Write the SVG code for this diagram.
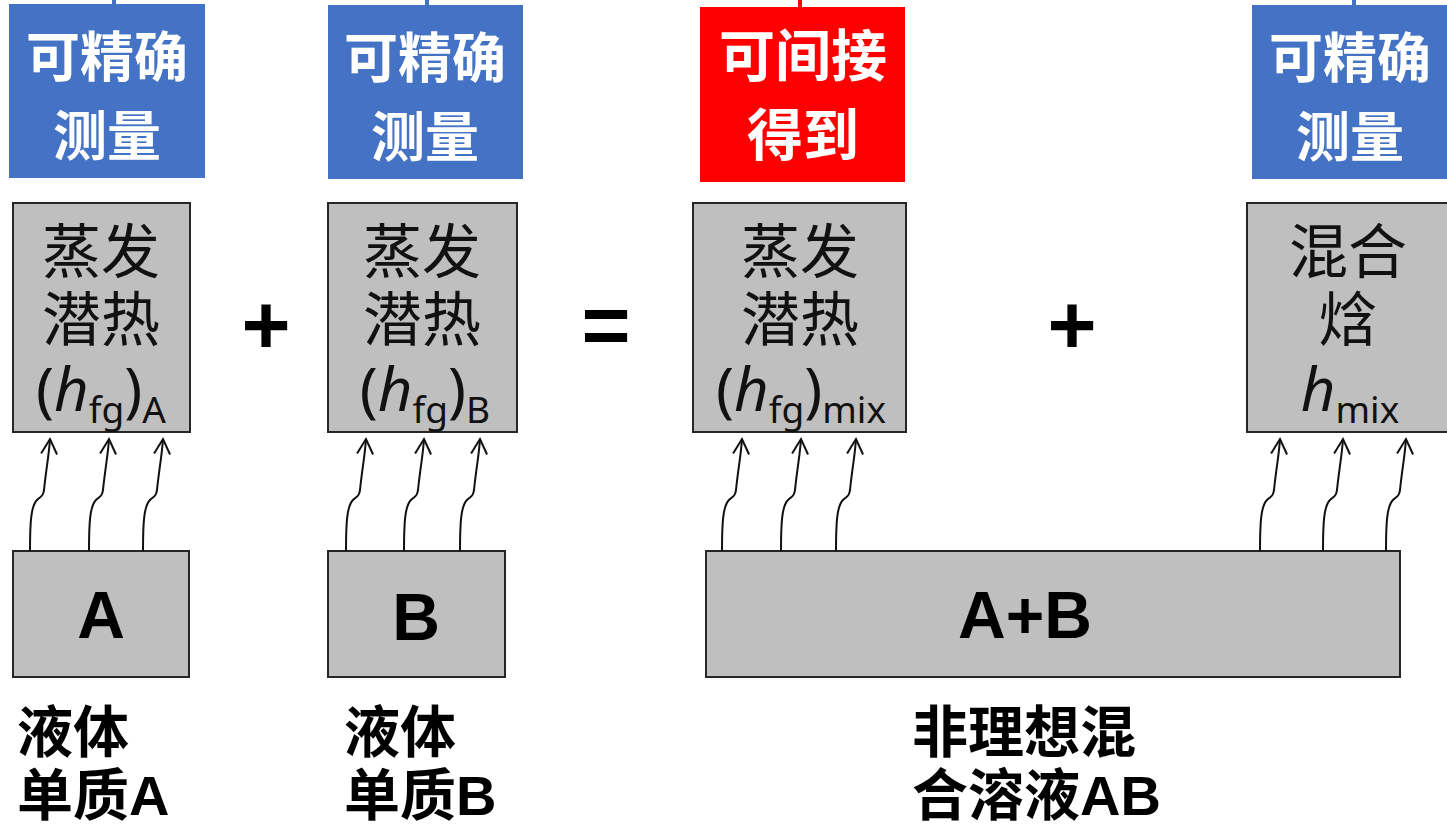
<svg xmlns="http://www.w3.org/2000/svg" width="1447" height="827" viewBox="0 0 1447 827">
<style>
.blue{fill:#4472C4}
.red{fill:#FF0000}
.gray{fill:#BFBFBF;stroke:#262626;stroke-width:2}
.wt{font-family:"Noto Sans CJK SC",sans-serif;font-weight:bold;font-size:54px;fill:#fff;text-anchor:middle}
.gt{font-family:"Noto Sans CJK SC",sans-serif;font-size:59px;fill:#111;text-anchor:middle}
.ft{font-family:"Noto Sans","Noto Sans CJK SC",sans-serif;font-size:60px;fill:#111;text-anchor:middle}
.sub{font-size:37px}
.bt{font-family:"Liberation Sans","Noto Sans CJK SC",sans-serif;font-weight:bold;font-size:66px;fill:#000;text-anchor:middle}
.lt{font-family:"Liberation Sans","Noto Sans CJK SC",sans-serif;font-weight:bold;font-size:56px;fill:#000}
.op{font-family:"Liberation Sans",sans-serif;font-weight:bold;font-size:84px;fill:#000;text-anchor:middle}
.wave{fill:none;stroke:#111;stroke-width:2;marker-end:url(#ah)}
</style>
<defs>
<marker id="ah" markerUnits="userSpaceOnUse" markerWidth="20" markerHeight="20" refX="15" refY="8" orient="auto" overflow="visible">
<path d="M0,0 L15,8 L0,16" fill="none" stroke="#111" stroke-width="2"/>
</marker>
<path id="w" d="M0,551 C0,522 1,506 7,500 C11,496 13,497 14,490 C16,470 19,455 20,439"/>
</defs>

<g id="top-labels">
<g id="lbl1">
<rect x="112" y="0" width="4" height="6" class="blue"/>
<rect x="9" y="4" width="196" height="174" class="blue"/>
<text x="107" y="77" class="wt">可精确</text>
<text x="107" y="156" class="wt">测量</text>
</g>
<g id="lbl2">
<rect x="425" y="0" width="4" height="7" class="blue"/>
<rect x="328" y="5" width="195" height="174" class="blue"/>
<text x="425" y="78" class="wt">可精确</text>
<text x="425" y="157" class="wt">测量</text>
</g>
<g id="lbl3">
<rect x="798" y="0" width="4" height="9" class="red"/>
<rect x="700" y="7" width="205" height="175" class="red"/>
<text x="803" y="76" class="wt" style="font-size:56px">可间接</text>
<text x="803" y="155" class="wt" style="font-size:56px">得到</text>
</g>
<g id="lbl4">
<rect x="1352" y="0" width="4" height="7" class="blue"/>
<rect x="1252" y="5" width="200" height="174" class="blue"/>
<text x="1350" y="78" class="wt">可精确</text>
<text x="1350" y="157" class="wt">测量</text>
</g>
</g>

<g id="hfgA">
<rect x="13" y="203" width="177" height="229" class="gray"/>
<text x="101" y="273" class="gt">蒸发</text>
<text x="101" y="341" class="gt">潜热</text>
<text x="101" y="411" class="ft">(<tspan font-style="italic">h</tspan><tspan class="sub" dy="12">fg</tspan><tspan dy="-12">)</tspan><tspan class="sub" dy="12">A</tspan></text>
</g>
<g id="hfgB">
<rect x="328" y="203" width="189" height="229" class="gray"/>
<text x="422" y="273" class="gt">蒸发</text>
<text x="422" y="341" class="gt">潜热</text>
<text x="425" y="411" class="ft">(<tspan font-style="italic">h</tspan><tspan class="sub" dy="12">fg</tspan><tspan dy="-12">)</tspan><tspan class="sub" dy="12">B</tspan></text>
</g>
<g id="hfgMix">
<rect x="693" y="203" width="213" height="229" class="gray"/>
<text x="800" y="273" class="gt">蒸发</text>
<text x="800" y="341" class="gt">潜热</text>
<text x="801" y="411" class="ft">(<tspan font-style="italic">h</tspan><tspan class="sub" dy="12">fg</tspan><tspan dy="-12">)</tspan><tspan class="sub" dy="12">mix</tspan></text>
</g>
<g id="hMix">
<rect x="1247" y="203" width="215" height="229" class="gray"/>
<text x="1348" y="273" class="gt">混合</text>
<text x="1348" y="341" class="gt">焓</text>
<text x="1350" y="411" class="ft"><tspan font-style="italic">h</tspan><tspan class="sub" dy="12">mix</tspan></text>
</g>

<g id="operators">
<text x="266" y="354" class="op">+</text>
<text x="606" y="354" class="op">=</text>
<text x="1072" y="354" class="op">+</text>
</g>

<g id="liqA">
<rect x="13" y="551" width="176" height="126" class="gray"/>
<text x="101" y="638" class="bt">A</text>
</g>
<g id="liqB">
<rect x="328" y="551" width="177" height="126" class="gray"/>
<text x="416" y="640" class="bt">B</text>
</g>
<g id="liqAB">
<rect x="706" y="551" width="694" height="126" class="gray"/>
<text x="1025" y="638" class="bt">A+B</text>
</g>

<g id="captions">
<text x="17" y="752" class="lt">液体</text>
<text x="17" y="815" class="lt">单质A</text>
<text x="344" y="752" class="lt">液体</text>
<text x="344" y="815" class="lt">单质B</text>
<text x="912" y="752" class="lt">非理想混</text>
<text x="912" y="815" class="lt">合溶液AB</text>
</g>

<g id="connectors">
<use href="#w" x="30" class="wave"/>
<use href="#w" x="89" class="wave"/>
<use href="#w" x="143" class="wave"/>
<use href="#w" x="346" class="wave"/>
<use href="#w" x="404" class="wave"/>
<use href="#w" x="460" class="wave"/>
<use href="#w" x="722" class="wave"/>
<use href="#w" x="781" class="wave"/>
<use href="#w" x="836" class="wave"/>
<use href="#w" x="1260" class="wave"/>
<use href="#w" x="1323" class="wave"/>
<use href="#w" x="1386" class="wave"/>
</g>
</svg>
